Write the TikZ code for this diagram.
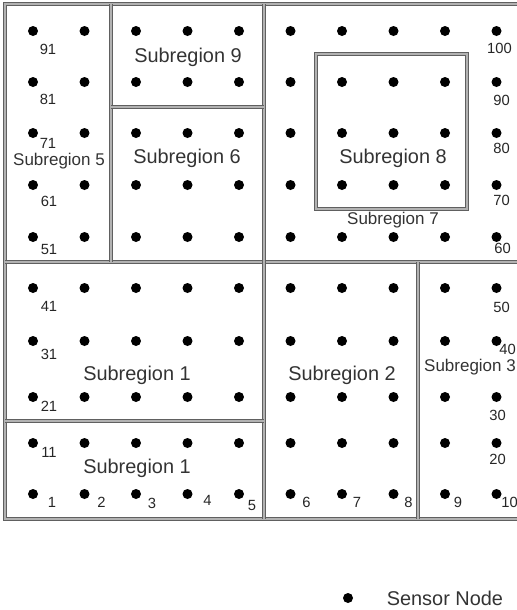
\documentclass[tikz,border=0pt]{standalone}
\usepackage{fontspec}
\setmainfont{Liberation Sans}
\usetikzlibrary{positioning}

\begin{document}
\begin{tikzpicture}[
    x=0.03cm, y=-0.03cm,
    wall/.style={draw=gray!75!black, double=gray!60, line width=0.9pt, double distance=1.5pt},
    sensor/.style={circle, fill=black, inner sep=0pt, minimum size=0.3cm},
    num/.style={inner sep=0pt, font=\fontsize{12.6}{14}\selectfont, text=black!85},
    big/.style={inner sep=0pt, font=\fontsize{17}{20}\selectfont, text=black!80},
    small/.style={inner sep=0pt, font=\fontsize{14.5}{17}\selectfont, text=black!80}
]
\useasboundingbox (0,0) rectangle (517,610);

% walls of the subregions
\draw[wall] (5,4) rectangle (522,519);
\draw[wall] (5,262) -- (522,262);
\draw[wall] (264,4) -- (264,519);
\draw[wall] (111,4) -- (111,262);
\draw[wall] (111,107) -- (264,107);
\draw[wall] (5,421) -- (264,421);
\draw[wall] (418,262) -- (418,519);
\draw[wall] (316,54) rectangle (467,209);

% sensor grid
\foreach \r/\y in {1/494,2/443,3/397,4/341,5/288,6/237,7/185,8/133,9/82,10/31}
  \foreach \c in {1,...,10} {
    \pgfmathtruncatemacro{\k}{(\r-1)*10+\c}
    \node[sensor] (n\k) at ({33+51.5*(\c-1)},\y) {};
  }

\foreach \k/\dx/\dy in {1/19/8, 2/17/8, 3/16/9, 4/20/6, 5/13/11, 6/16/8, 7/15/8,
    8/15/8, 9/13/8, 10/13/8, 11/16/9, 20/1/16, 21/16/9, 30/1/18, 31/16/13,
    40/11/8, 41/16/18, 50/5/19, 51/16/12, 60/6/11, 61/16/16, 70/5/15, 71/15/10,
    80/5/15, 81/15/17, 90/5/18, 91/15/18, 100/3/17}
  \node[num] (l\k) at ([shift={(\dx,\dy)}]n\k) {\k};

\node[big] (r9) at (188,57) {Subregion 9};
\node[small] (r5) at (59,161) {Subregion 5};
\node[big] (r6) at (187,158) {Subregion 6};
\node[big] (r8) at (393,158) {Subregion 8};
\node[small] (r7) at (393,220) {Subregion 7};
\node[big] (r1a) at (137,375) {Subregion 1};
\node[big] (r1b) at (137,468) {Subregion 1};
\node[big] (r2) at (342,375) {Subregion 2};
\node[small] (r3) at (470,367) {Subregion 3};

% legend
\node[sensor] (key) at (348,598) {};
\node[big, right=1cm of key] (keytext) {Sensor Node};

\end{tikzpicture}
\end{document}
